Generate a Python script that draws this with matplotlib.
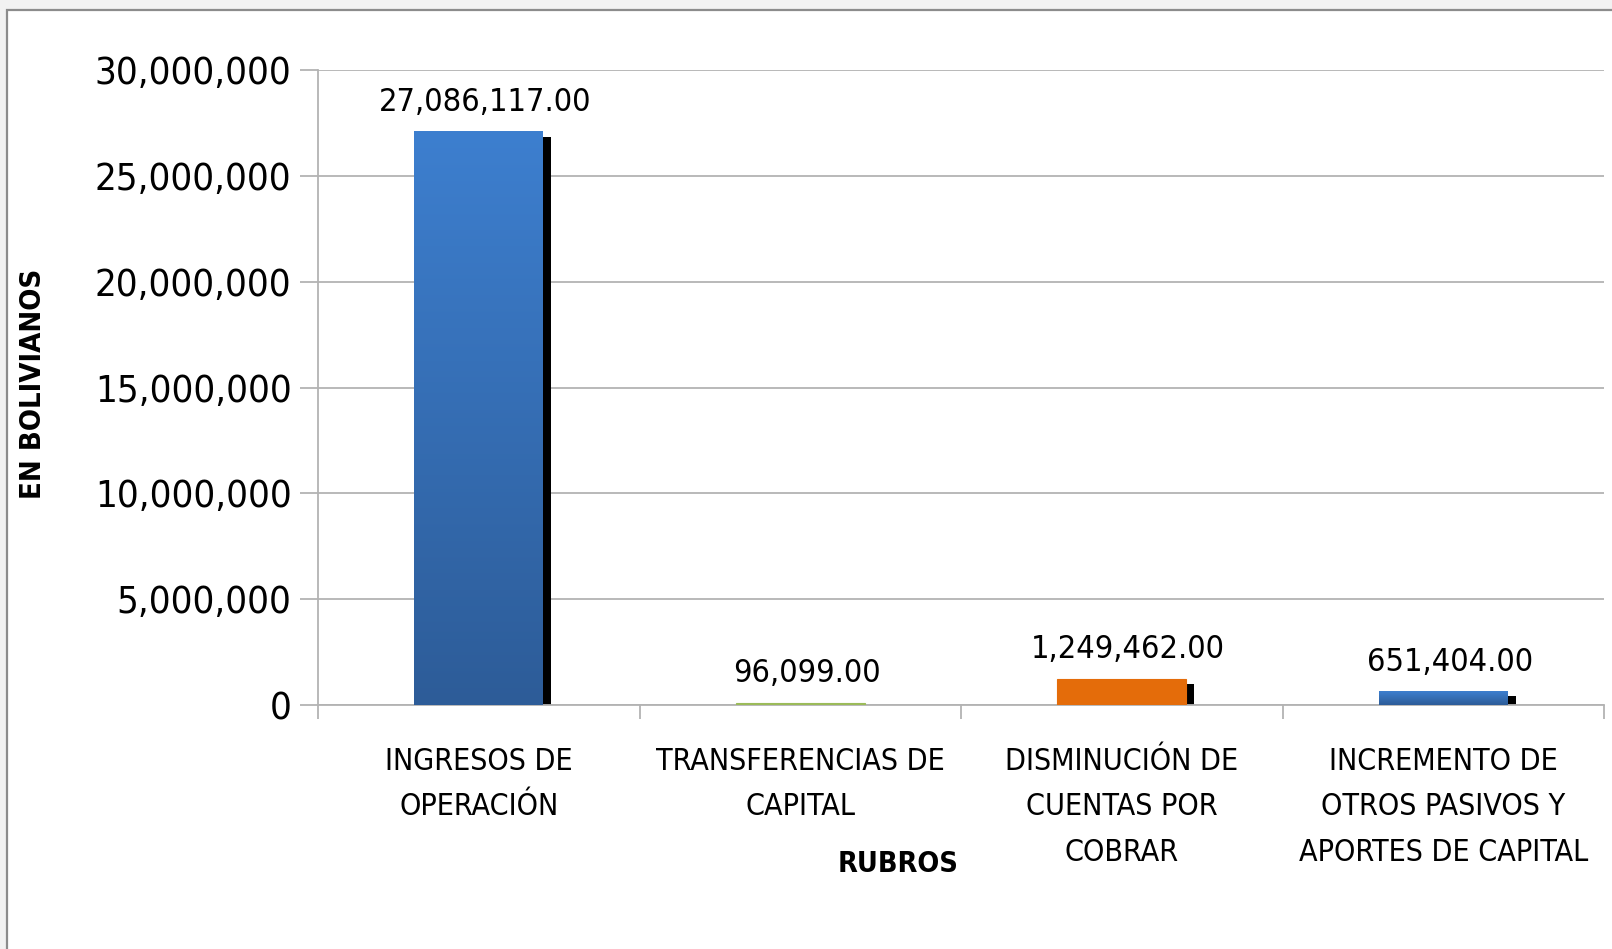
import matplotlib
matplotlib.use("Agg")
import matplotlib.pyplot as plt
import matplotlib.transforms as mtransforms
from matplotlib.patches import Rectangle
from matplotlib.colors import LinearSegmentedColormap
import numpy as np

categories = ["INGRESOS DE\nOPERACIÓN", "TRANSFERENCIAS DE\nCAPITAL",
              "DISMINUCIÓN DE\nCUENTAS POR\nCOBRAR",
              "INCREMENTO DE\nOTROS PASIVOS Y\nAPORTES DE CAPITAL"]
values = [27086117.00, 96099.00, 1249462.00, 651404.00]
labels = ["27,086,117.00", "96,099.00", "1,249,462.00", "651,404.00"]
yticks = [0, 5000000, 10000000, 15000000, 20000000, 25000000, 30000000]
ylabel = "EN BOLIVIANOS"
xlabel = "RUBROS"

colors = ["grad", "#9bbb59", "#e46c0a", "grad"]

plt.rcParams["font.family"] = ["DejaVu Sans"]
plt.rcParams["font.stretch"] = "condensed"

W, H = 1612, 949
fig = plt.figure(figsize=(W / 100, H / 100), dpi=100)
fig.patch.set_facecolor("#f2f2f2")
frame = Rectangle((7 / W, -0.05), 1.2, 1 - 10 / H + 0.05, transform=fig.transFigure,
                  facecolor="white", edgecolor="#8c8c8c", linewidth=1.6, zorder=-10)
fig.add_artist(frame)

ax = fig.add_axes([318 / W, 1 - 705 / H, (1604 - 318) / W, (705 - 70) / H])
ax.set_facecolor("none")

n = len(values)
x = np.arange(n)
bw = 0.40

shadow_tr = ax.transData + mtransforms.ScaledTranslation(8 / 100, -5 / 100, fig.dpi_scale_trans)
for i, v in enumerate(values):
    r = Rectangle((x[i] - bw / 2, 0), bw, v, facecolor="black", edgecolor="none",
                  transform=shadow_tr, zorder=2)
    ax.add_patch(r)

grad = np.linspace(0, 1, 256).reshape(-1, 1)
bcmap = LinearSegmentedColormap.from_list("b", ["#3d7fcf", "#2d5c98"])
for i, v in enumerate(values):
    if colors[i] == "grad":
        ax.imshow(grad, cmap=bcmap, aspect="auto", origin="upper",
                  extent=(x[i] - bw / 2, x[i] + bw / 2, 0, v),
                  zorder=3, interpolation="bilinear")
    else:
        ax.bar(x[i], v, width=bw, color=colors[i], edgecolor=colors[i],
               linewidth=0.8, zorder=3)

for i, v in enumerate(values):
    ax.annotate(labels[i], (x[i] + 0.02, v), xytext=(0, 29), textcoords="offset pixels",
                ha="center", va="center", fontsize=23.3, color="black", zorder=5)

ax.set_xlim(-0.5, n - 0.5)
ax.set_ylim(0, 30000000)
ax.set_yticks(yticks)
ax.set_yticklabels([f"{t:,}" for t in yticks], fontsize=27.5)
ax.yaxis.grid(True, color="#b3b3b3", linewidth=1.3, zorder=0)
ax.set_axisbelow(True)
ax.tick_params(axis="y", direction="out", length=13, width=1.3, color="#b3b3b3", pad=6)

ax.set_xticks(np.arange(n + 1) - 0.5)
ax.set_xticklabels([])
ax.set_xticks(x, minor=True)
ax.set_xticklabels(categories, minor=True, fontsize=21.8, linespacing=1.72)
ax.tick_params(axis="x", which="major", direction="out", length=10, width=1.3, color="#b3b3b3")
ax.tick_params(axis="x", which="minor", length=0, pad=30)

for s in ["top", "right"]:
    ax.spines[s].set_visible(False)
for s in ["left", "bottom"]:
    ax.spines[s].set_color("#b3b3b3")
    ax.spines[s].set_linewidth(1.3)

fig.text(33 / W, 1 - 384 / H, ylabel, rotation=90, ha="center", va="center",
         fontsize=21, fontweight="bold")
fig.text(898 / W, 1 - 864 / H, xlabel, ha="center", va="center",
         fontsize=20.7, fontweight="bold")

fig.savefig("out.png", dpi=100, facecolor=fig.get_facecolor())
